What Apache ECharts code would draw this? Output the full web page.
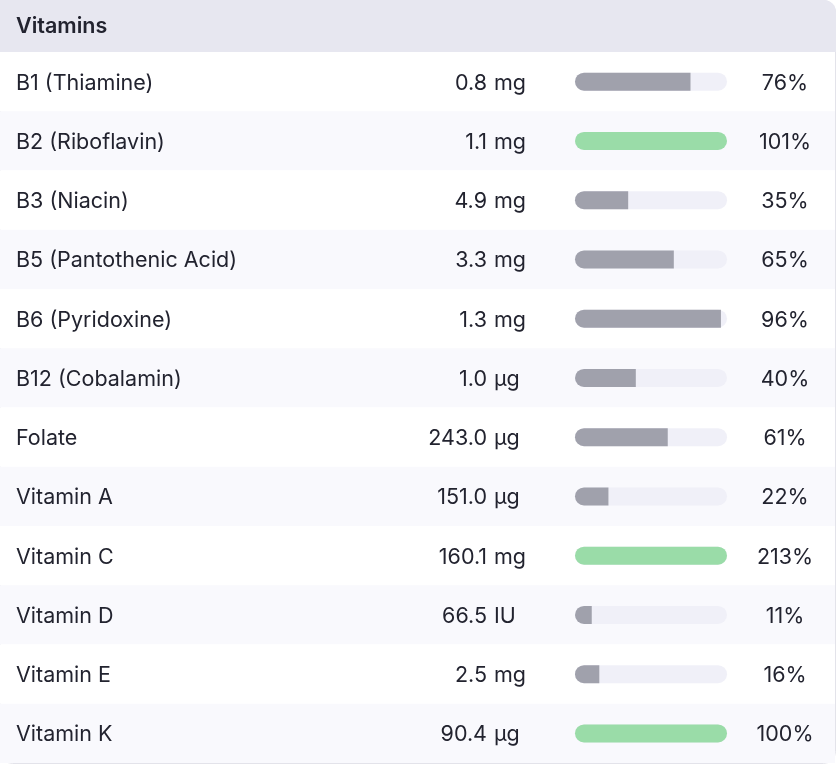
<!DOCTYPE html>
<html>
<head>
    <title>Vitamins</title>
    <script src="https://cdn.jsdelivr.net/npm/echarts@6/dist/echarts.min.js"></script>
    <style>
        html, body { margin: 0; padding: 0; background: #ffffff; }
        #chart { width: 840px; height: 766px; }
    </style>
</head>
<body>
    <div id="chart"></div>

    <script>
        // table data
        var nutrients = ['B1 (Thiamine)', 'B2 (Riboflavin)', 'B3 (Niacin)', 'B5 (Pantothenic Acid)',
            'B6 (Pyridoxine)', 'B12 (Cobalamin)', 'Folate', 'Vitamin A', 'Vitamin C',
            'Vitamin D', 'Vitamin E', 'Vitamin K'];
        var amounts = [0.8, 1.1, 4.9, 3.3, 1.3, 1.0, 243.0, 151.0, 160.1, 66.5, 2.5, 90.4];
        var units = ['mg', 'mg', 'mg', 'mg', 'mg', 'µg', 'µg', 'µg', 'mg', 'IU', 'mg', 'µg'];
        var dailyPct = [76, 101, 35, 65, 96, 40, 61, 22, 213, 11, 16, 100];

        var FONT = 'Inter, "Noto Sans", sans-serif';
        var TEXT = '#22232f';
        var GRAY = '#a0a1ac';
        var GREEN = '#9adca8';
        var TRACK = '#f0f0f8';

        var chart = echarts.init(document.getElementById('chart'), null, { renderer: 'canvas' });

        // bar fill, capped at the track length
        var barData = dailyPct.map(function (p) {
            var full = p >= 100;
            return {
                value: Math.min(p, 100),
                itemStyle: {
                    color: full ? GREEN : GRAY,
                    borderRadius: full ? 9 : [9, 0, 0, 9]
                }
            };
        });

        function txt(text, x, y, align, weight) {
            return {
                type: 'text',
                style: {
                    text: text, x: x, y: y,
                    textAlign: align, align: align,
                    textVerticalAlign: 'middle', verticalAlign: 'middle',
                    fill: TEXT,
                    font: (weight || 400) + ' 21.5px ' + FONT
                }
            };
        }

        var option = {
            animation: false,
            title: {
                text: 'Vitamins',
                left: 16, top: 14, padding: 0,
                textStyle: { fontFamily: FONT, fontSize: 21.5, fontWeight: 600, color: TEXT, lineHeight: 26 }
            },
            graphic: [
                {
                    type: 'rect', z: -10, silent: true,
                    shape: { x: 0.5, y: 0.5, width: 835, height: 763, r: [0, 12, 12, 12] },
                    style: { fill: '#ffffff', stroke: '#e3e3ea', lineWidth: 1 }
                },
                {
                    type: 'rect', z: -9, silent: true,
                    shape: { x: 0, y: 0, width: 836, height: 52, r: [0, 12, 0, 0] },
                    style: { fill: '#e7e7f0' }
                }
            ],
            grid: [
                { left: 0, top: 52, width: 835, height: 711 },
                { left: 575, top: 52, width: 152, height: 711 }
            ],
            xAxis: [
                { gridIndex: 0, type: 'value', min: 0, max: 1, show: false },
                { gridIndex: 1, type: 'value', min: 0, max: 100, show: false }
            ],
            yAxis: [
                { gridIndex: 0, type: 'category', data: nutrients, inverse: true, show: false },
                { gridIndex: 1, type: 'category', data: nutrients, inverse: true, show: false }
            ],
            series: [
                {
                    // row backgrounds and text columns
                    type: 'custom',
                    xAxisIndex: 0, yAxisIndex: 0,
                    z: 1,
                    data: nutrients.map(function (n, i) { return [0, i]; }),
                    encode: { x: 0, y: 1 },
                    renderItem: function (params, api) {
                        var i = params.dataIndex;
                        var cs = params.coordSys;
                        var c = api.coord([0, i]);
                        var h = api.size([0, 1])[1];
                        var y = c[1];
                        var ty = y + 1.5;
                        return {
                            type: 'group',
                            children: [
                                {
                                    type: 'rect',
                                    shape: { x: cs.x, y: y - h / 2, width: cs.width, height: h },
                                    style: { fill: i % 2 === 0 ? '#ffffff' : '#f9f9fd' }
                                },
                                txt(nutrients[i], cs.x + 16, ty, 'left'),
                                txt(amounts[i].toFixed(1), cs.x + 487, ty, 'right'),
                                txt(units[i], cs.x + 494, ty, 'left'),
                                txt(dailyPct[i] + '%', cs.x + 785, ty, 'center')
                            ]
                        };
                    }
                },
                {
                    type: 'bar',
                    xAxisIndex: 1, yAxisIndex: 1,
                    z: 3,
                    barWidth: 18,
                    showBackground: true,
                    backgroundStyle: { color: TRACK, borderRadius: 9 },
                    data: barData
                }
            ]
        };

        chart.setOption(option);
    </script>
</body>
</html>
